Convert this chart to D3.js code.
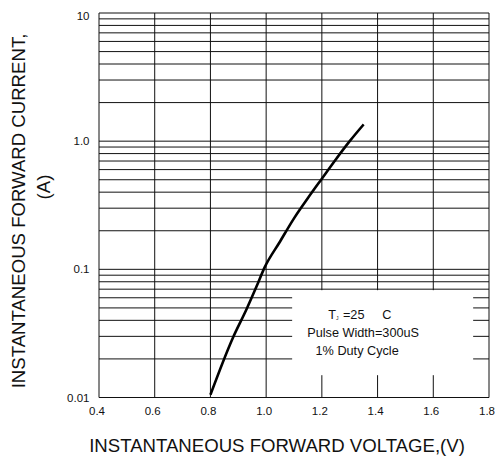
<!DOCTYPE html>
<html>
<head>
<meta charset="utf-8">
<script src="https://cdn.jsdelivr.net/npm/d3@7"></script>
<style>
  body { margin: 0; background: #fff; }
  text { font-family: "Liberation Sans", Arial, sans-serif; fill: #111; }
</style>
</head>
<body>
<div id="chart"></div>
<script>
var svgW = 496;
var svgH = 461;

var margin = { top: 13, right: 7, bottom: 63.5, left: 99 };
var width = svgW - margin.left - margin.right;
var height = svgH - margin.top - margin.bottom;

// forward voltage (V) vs forward current (A)
var voltage = [0.80, 0.88, 0.93, 0.965, 0.995, 1.05, 1.10, 1.15, 1.20, 1.25, 1.30, 1.35];
var current = [0.0105, 0.029, 0.049, 0.073, 0.104, 0.165, 0.25, 0.36, 0.51, 0.72, 1.0, 1.35];

var xTicks = [0.4, 0.6, 0.8, 1.0, 1.2, 1.4, 1.6, 1.8];
var yMajor = [0.01, 0.1, 1, 10];
var yLabels = ["0.01", "0.1", "1.0", "10"];

var svg = d3.select("#chart")
  .append("svg")
  .attr("width", svgW)
  .attr("height", svgH);

var chartGroup = svg.append("g")
  .attr("transform", `translate(${margin.left}, ${margin.top})`);

var x = d3.scaleLinear().domain([0.4, 1.8]).range([0, width]);
var y = d3.scaleLog().domain([0.01, 10]).range([height, 0]);

// minor + major log gridlines
var yGrid = [];
yMajor.slice(0, 3).forEach(function(d) {
  for (var k = 1; k < 10; k++) yGrid.push(d * k);
});
yGrid.push(10);

var gridGroup = chartGroup.append("g")
  .attr("stroke", "#111")
  .attr("stroke-width", 1);

gridGroup.selectAll(".hgrid")
  .data(yGrid)
  .enter()
  .append("line")
  .attr("x1", 0)
  .attr("x2", width)
  .attr("y1", d => y(d))
  .attr("y2", d => y(d));

gridGroup.selectAll(".vgrid")
  .data(xTicks)
  .enter()
  .append("line")
  .attr("x1", d => x(d))
  .attr("x2", d => x(d))
  .attr("y1", 0)
  .attr("y2", height);

// tick labels
chartGroup.selectAll(".ylab")
  .data(yMajor)
  .enter()
  .append("text")
  .attr("x", -9.5)
  .attr("y", d => y(d) + (d === 10 ? 3 : 0))
  .attr("dy", "0.35em")
  .attr("text-anchor", "end")
  .attr("font-size", 11.5)
  .text((d, i) => yLabels[i]);

chartGroup.selectAll(".xlab")
  .data(xTicks)
  .enter()
  .append("text")
  .attr("x", d => x(d) - 2)
  .attr("y", height + 17)
  .attr("text-anchor", "middle")
  .attr("font-size", 11.5)
  .text(d => d.toFixed(1));

// condition box blanks the grid behind it
var box = chartGroup.append("g")
  .attr("transform", `translate(${x(1.0) + 26}, ${y(0.07) + 1})`);

box.append("rect")
  .attr("width", 181)
  .attr("height", 85)
  .attr("fill", "#fff");

var t1 = box.append("text")
  .attr("x", 36)
  .attr("y", 29)
  .attr("font-size", 12.7);
t1.append("tspan").text("T");
t1.append("tspan").attr("font-size", 5).attr("dy", 1).text("J");
t1.append("tspan").attr("dy", -1).attr("dx", 1).text(" =25");
box.append("text")
  .attr("x", 90)
  .attr("y", 29)
  .attr("font-size", 12.7)
  .text("C");

box.append("text")
  .attr("x", 71)
  .attr("y", 46.5)
  .attr("text-anchor", "middle")
  .attr("font-size", 12.7)
  .text("Pulse Width=300uS");

box.append("text")
  .attr("x", 65)
  .attr("y", 65)
  .attr("text-anchor", "middle")
  .attr("font-size", 12.7)
  .text("1% Duty Cycle");

// curve
var line = d3.line()
  .x((d, i) => x(voltage[i]))
  .y((d, i) => y(current[i]))
  .curve(d3.curveMonotoneX);

chartGroup.append("path")
  .datum(voltage)
  .attr("d", line)
  .attr("fill", "none")
  .attr("stroke", "#000")
  .attr("stroke-width", 2.6);

// axis titles
svg.append("text")
  .attr("x", 277)
  .attr("y", 452)
  .attr("text-anchor", "middle")
  .attr("font-size", 18.6)
  .text("INSTANTANEOUS FORWARD VOLTAGE,(V)");

svg.append("text")
  .attr("transform", "translate(25, 211) rotate(-90)")
  .attr("text-anchor", "middle")
  .attr("font-size", 18.6)
  .text("INSTANTANEOUS FORWARD CURRENT,");

svg.append("text")
  .attr("transform", "translate(50, 187) rotate(-90)")
  .attr("text-anchor", "middle")
  .attr("font-size", 18.6)
  .text("(A)");
</script>
</body>
</html>
